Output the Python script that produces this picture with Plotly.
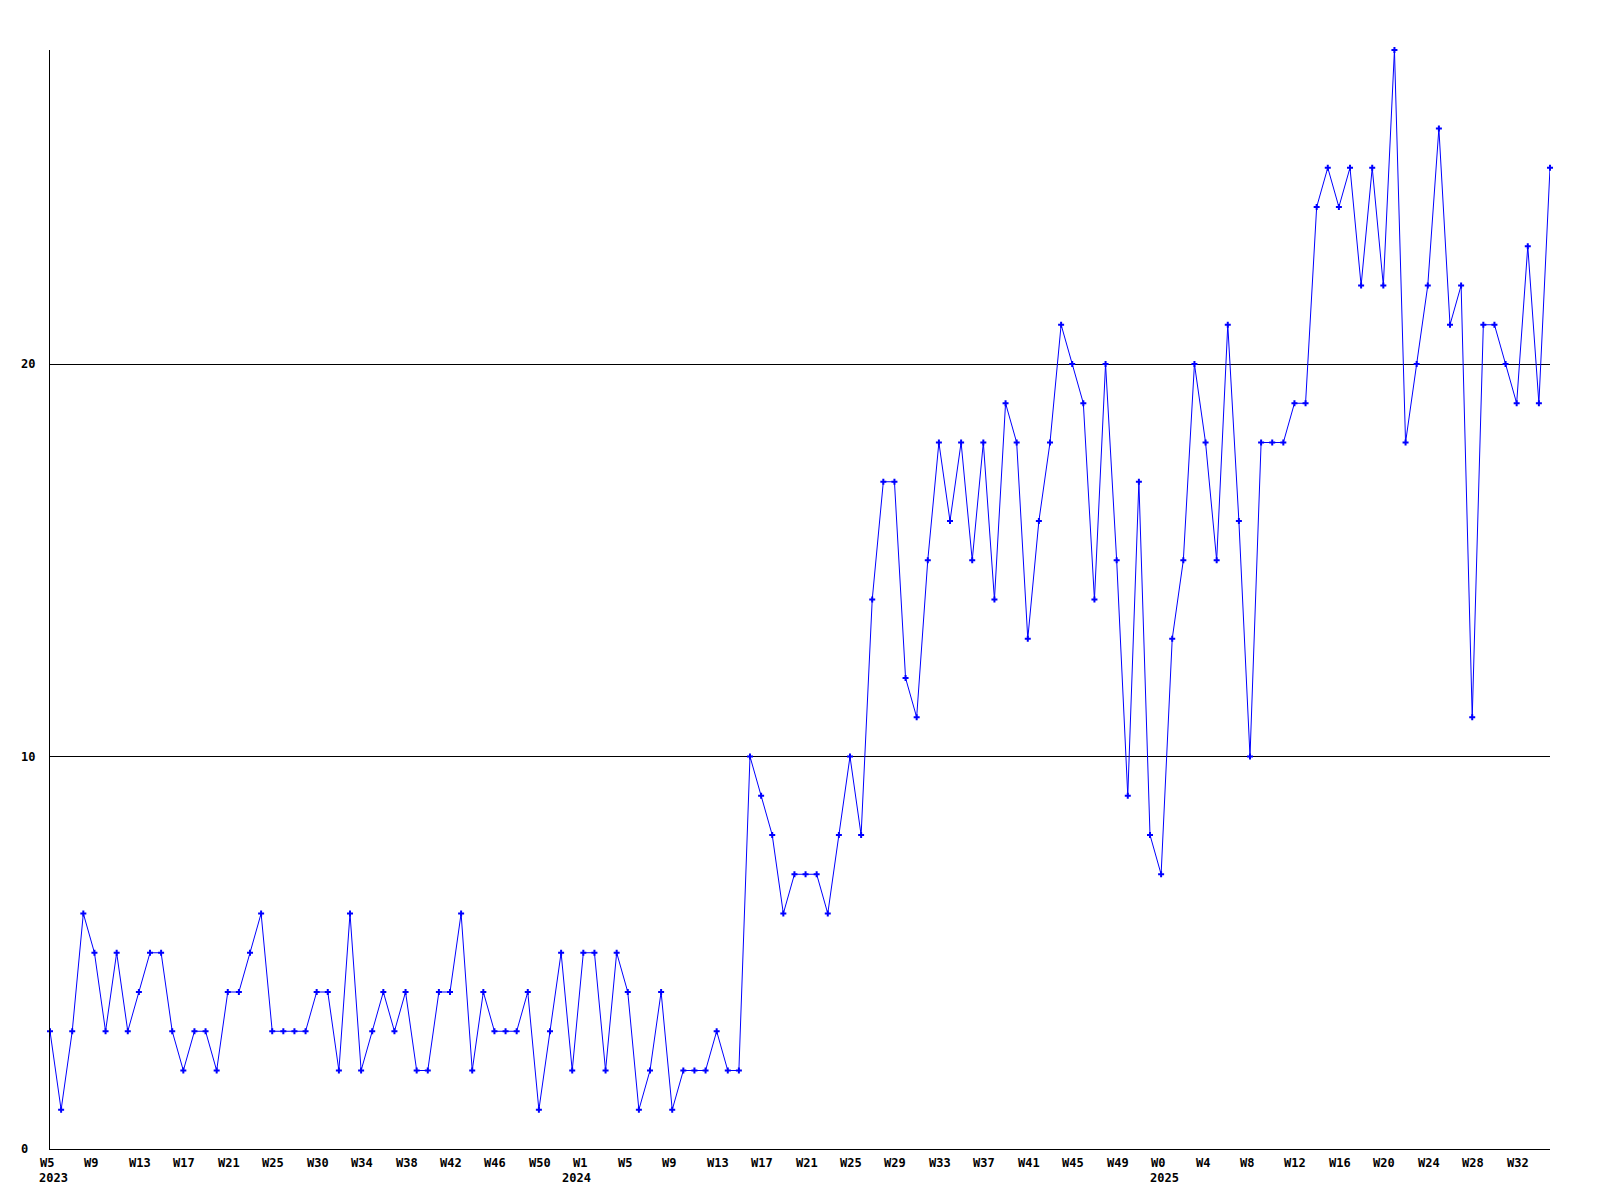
import plotly.graph_objects as go

# weekly values, one per week from 2023 W5
values = [
    3, 1, 3, 6, 5, 3, 5, 3, 4, 5, 5, 3, 2, 3, 3, 2, 4, 4, 5, 6, 3, 3, 3, 3, 4, 4, 2, 6, 2, 3, 4, 3,
    4, 2, 2, 4, 4, 6, 2, 4, 3, 3, 3, 4, 1, 3, 5, 2, 5, 5, 2, 5, 4, 1, 2, 4, 1, 2, 2, 2, 3, 2, 2,
    10, 9, 8, 6, 7, 7, 7, 6, 8, 10, 8, 14, 17, 17, 12, 11, 15, 18, 16, 18, 15, 18, 14, 19, 18,
    13, 16, 18, 21, 20, 19, 14, 20, 15, 9, 17, 8, 7, 13, 15, 20, 18, 15, 21, 16, 10, 18, 18, 18,
    19, 19, 24, 25, 24, 25, 22, 25, 22, 28, 18, 20, 22, 26, 21, 22, 11, 21, 21, 20, 19, 23, 19, 25,
]
weeks = list(range(len(values)))

week_ticks = list(range(0, 133, 4))
week_labels = [
    "W5", "W9", "W13", "W17", "W21", "W25", "W30", "W34", "W38", "W42", "W46", "W50",
    "W1", "W5", "W9", "W13", "W17", "W21", "W25", "W29", "W33", "W37", "W41", "W45", "W49",
    "W0", "W4", "W8", "W12", "W16", "W20", "W24", "W28", "W32",
]
year_ticks = [0, 48, 100]
year_labels = ["2023", "2024", "2025"]
year_shift = [-13, -23, -13]
y_ticks = [0, 10, 20]

FONT = dict(family="DejaVu Sans Mono", size=12, color="black", weight="bold")

fig = go.Figure()
fig.add_trace(go.Scatter(
    x=weeks, y=values, mode="lines+markers",
    line=dict(color="#0000FF", width=1),
    marker=dict(symbol="cross", size=5, color="#0000FF", line=dict(width=0)),
    cliponaxis=False, showlegend=False, hoverinfo="skip",
))

annotations = []
for t, lab in zip(week_ticks, week_labels):
    annotations.append(dict(x=t, y=0, xref="x", yref="paper", text=lab, showarrow=False,
                            xanchor="left", yanchor="middle", xshift=-12, yshift=-14, font=FONT))
for t, lab, s in zip(year_ticks, year_labels, year_shift):
    annotations.append(dict(x=t, y=0, xref="x", yref="paper", text=lab, showarrow=False,
                            xanchor="left", yanchor="middle", xshift=s, yshift=-29, font=FONT))
for v in y_ticks:
    annotations.append(dict(x=0, y=v, xref="paper", yref="y", text=str(v), showarrow=False,
                            xanchor="left", yanchor="middle", xshift=-31, font=FONT))

fig.update_layout(
    width=1600, height=1200,
    margin=dict(l=50, r=50, t=50, b=51),
    paper_bgcolor="white", plot_bgcolor="white",
    annotations=annotations,
    xaxis=dict(range=[0, len(values) - 1], showgrid=False, zeroline=False,
               showticklabels=False, ticks="", showline=True, linecolor="black",
               linewidth=1),
    yaxis=dict(range=[0, 28], tickvals=y_ticks, showgrid=True, gridcolor="black",
               gridwidth=1, zeroline=False, showticklabels=False, ticks="",
               showline=True, linecolor="black", linewidth=1),
)

fig.write_html("out.html", config={"displayModeBar": False},
               post_script="document.body.style.margin='0';")
